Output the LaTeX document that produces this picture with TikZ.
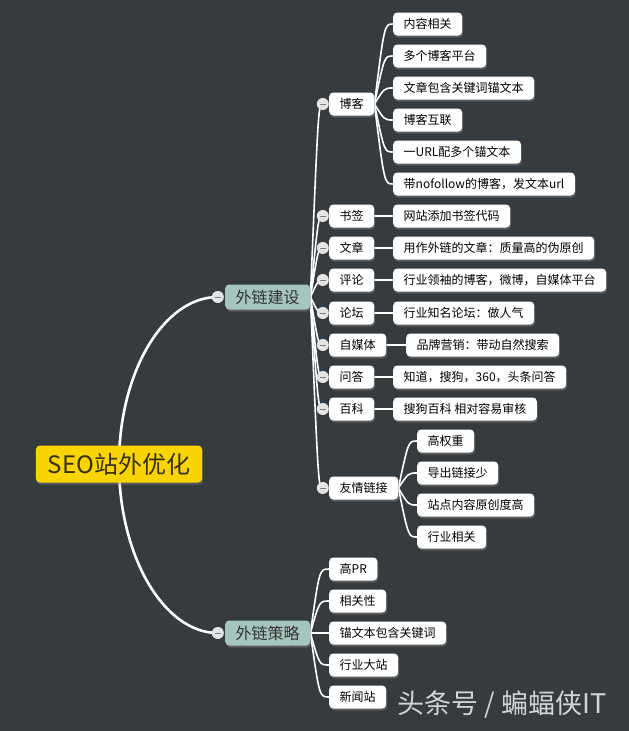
\documentclass[tikz,border=0pt]{standalone}
\usepackage{fontspec}
\setmainfont{Noto Sans CJK SC}
\usepackage{tikz}
\usetikzlibrary{positioning,calc,shadows}
\definecolor{slate}{HTML}{363B3F}
\definecolor{gold}{HTML}{F9D403}
\definecolor{goldink}{HTML}{3A2F05}
\definecolor{sage}{HTML}{A5C6BE}
\definecolor{knobgrey}{HTML}{E4E4E4}
\definecolor{stampgrey}{HTML}{D4D4D4}
\pgfdeclarelayer{back}
\pgfdeclarelayer{wires}
\pgfsetlayers{back,wires,main}

\begin{document}
\begin{tikzpicture}[x=1pt,y=-1pt,
    lift/.style={drop shadow={shadow xshift=1pt,shadow yshift=-2pt,opacity=.45}},
    seobox/.style={fill=gold, text=goldink, rounded corners=4pt, minimum height=37pt,
      inner xsep=12pt, inner ysep=0pt, font=\fontsize{24}{28}\selectfont, lift},
    hubbox/.style={fill=sage, text=black!80, rounded corners=4pt, minimum height=25pt,
      inner xsep=10.5pt, inner ysep=0pt, anchor=west, font=\fontsize{16}{19}\selectfont, lift},
    topicbox/.style={fill=white, text=black, rounded corners=4pt, minimum height=23pt,
      inner xsep=10.5pt, inner ysep=0pt, anchor=west, font=\fontsize{12}{14}\selectfont, lift},
    knob/.style={circle, fill=knobgrey, text=gray, inner sep=0pt, minimum size=12pt},
    trunk/.style={draw=white, line width=2.6pt},
    twig/.style={draw=white, line width=1.6pt}]
    \useasboundingbox (0,0) rectangle (629,731);
    \begin{pgfonlayer}{back}
      \fill[slate] (0,0) rectangle (629,731);
    \end{pgfonlayer}

    \node[seobox] (seo) at (119,464) {SEO站外优化};
    \node[hubbox] (build) at (225,297) {外链建设};
    \node[hubbox] (plan) at (225,633) {外链策略};
    \node[knob, left=1pt of build] (kbuild) {\rule{6pt}{1pt}};
    \node[knob, left=1pt of plan] (kplan) {\rule{6pt}{1pt}};

    \node[topicbox] (blog) at (329,104) {博客};
    \node[topicbox] (mark) at (329,216) {书签};
    \node[topicbox] (article) at (329,248) {文章};
    \node[topicbox] (comment) at (329,280) {评论};
    \node[topicbox] (forum) at (329,313) {论坛};
    \node[topicbox] (media) at (329,345) {自媒体};
    \node[topicbox] (qa) at (329,377) {问答};
    \node[topicbox] (wiki) at (329,409) {百科};
    \node[topicbox] (friend) at (329,488) {友情链接};
    \foreach \p in {blog,mark,article,comment,forum,media,qa,wiki,friend}
      \node[knob, left=0pt of \p] (k\p) {\rule{6pt}{1pt}};

    \node[topicbox] (blog1) at (393,24) {内容相关};
    \node[topicbox] (blog2) at (393,56) {多个博客平台};
    \node[topicbox] (blog3) at (393,88) {文章包含关键词锚文本};
    \node[topicbox] (blog4) at (393,120) {博客互联};
    \node[topicbox] (blog5) at (393,152) {一URL配多个锚文本};
    \node[topicbox] (blog6) at (393,184) {带nofollow的博客，发文本url};
    \node[topicbox] (mark1) at (393,216) {网站添加书签代码};
    \node[topicbox] (article1) at (393,248) {用作外链的文章：质量高的伪原创};
    \node[topicbox] (comment1) at (393,280) {行业领袖的博客，微博，自媒体平台};
    \node[topicbox] (forum1) at (393,313) {行业知名论坛：做人气};
    \node[topicbox] (media1) at (406,345) {品牌营销：带动自然搜索};
    \node[topicbox] (qa1) at (393,377) {知道，搜狗，360，头条问答};
    \node[topicbox] (wiki1) at (393,409) {搜狗百科 相对容易审核};
    \node[topicbox] (friend1) at (417,441) {高权重};
    \node[topicbox] (friend2) at (417,473) {导出链接少};
    \node[topicbox] (friend3) at (417,505) {站点内容原创度高};
    \node[topicbox] (friend4) at (417,537) {行业相关};

    \node[topicbox] (plan1) at (329,569) {高PR};
    \node[topicbox] (plan2) at (329,601) {相关性};
    \node[topicbox] (plan3) at (329,633) {锚文本包含关键词};
    \node[topicbox] (plan4) at (329,665) {行业大站};
    \node[topicbox] (plan5) at (329,697) {新闻站};

    \node[text=stampgrey, font=\fontsize{27}{30}\selectfont] (stamp) at (502,705) {头条号 / 蝙蝠侠IT};

    \begin{pgfonlayer}{wires}
      \draw[trunk] (seo.center) .. controls +(0,-92) and +(-54,0) .. (kbuild.center);
      \draw[trunk] (seo.center) .. controls +(0,92) and +(-54,0) .. (kplan.center);
      \foreach \p in {blog,mark,article,comment,forum,media,qa,wiki,friend}
        \draw[twig] (build.east) .. controls ($(build.east |- k\p)+(8,0)$) .. (k\p.center);
      \foreach \n in {1,...,6}
        \draw[twig] (blog.east) .. controls ($(blog.east |- blog\n.west)+(10,0)$) .. (blog\n.west);
      \foreach \p in {mark,article,comment,forum,media,qa,wiki}
        \draw[twig] (\p.east) -- (\p1.west);
      \foreach \n in {1,...,4}
        \draw[twig] (friend.east) .. controls ($(friend.east |- friend\n.west)+(10,0)$) .. (friend\n.west);
      \foreach \n in {1,...,5}
        \draw[twig] (plan.east) .. controls ($(plan.east |- plan\n.west)+(9,0)$) .. (plan\n.west);
    \end{pgfonlayer}
\end{tikzpicture}
\end{document}
